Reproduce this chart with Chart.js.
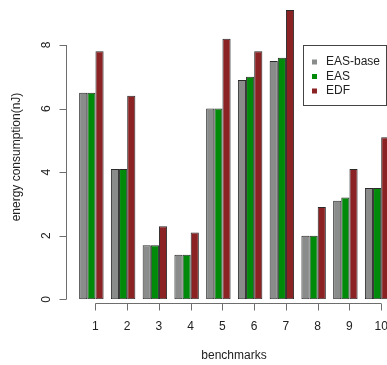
<!DOCTYPE html>
<html>
<head>
<meta charset="utf-8">
<script src="https://cdn.jsdelivr.net/npm/chart.js@4"></script>
<style>
  html, body { margin: 0; padding: 0; background: #fff; overflow: hidden; }
  #wrap { width: 400px; height: 365px; }
</style>
</head>
<body>
<div id="wrap"><canvas id="myChart" width="400" height="365"></canvas></div>
<script>
// data
var benchmarks = ['1', '2', '3', '4', '5', '6', '7', '8', '9', '10'];
var easBase = [6.5, 4.1, 1.7, 1.4, 6.0, 6.9, 7.5, 2.0, 3.1, 3.5];
var eas     = [6.5, 4.1, 1.7, 1.4, 6.0, 7.0, 7.6, 2.0, 3.2, 3.5];
var edf     = [7.8, 6.4, 2.3, 2.1, 8.2, 7.8, 9.1, 2.9, 4.1, 5.1];
var yTicks  = [0, 2, 4, 6, 8];

var FONT = '12px "Liberation Sans", Arial, sans-serif';

// R-style axes, titles and legend
var rAxes = {
  id: 'rAxes',
  afterDraw: function(chart) {
    var ctx = chart.ctx;
    var x = chart.scales.x, y = chart.scales.y;
    var half = chart.getDatasetMeta(0).data[0].width / 2;

    ctx.save();
    ctx.strokeStyle = '#6e6e6e';
    ctx.lineWidth = 1;
    ctx.fillStyle = '#222';
    ctx.font = FONT;

    // y axis
    var ax = 66.5;
    ctx.beginPath();
    ctx.moveTo(ax, y.getPixelForValue(yTicks[0]));
    ctx.lineTo(ax, y.getPixelForValue(yTicks[yTicks.length - 1]));
    yTicks.forEach(function(t) {
      var py = Math.round(y.getPixelForValue(t)) + 0.5;
      ctx.moveTo(ax, py);
      ctx.lineTo(ax - 7, py);
    });
    ctx.stroke();
    ctx.textAlign = 'center';
    ctx.textBaseline = 'middle';
    yTicks.forEach(function(t) {
      ctx.save();
      ctx.translate(47, y.getPixelForValue(t));
      ctx.rotate(-Math.PI / 2);
      ctx.fillText(String(t), 0, 0);
      ctx.restore();
    });

    // x axis
    var ay = 303.5;
    var first = x.getPixelForValue(0) + half;
    var last = x.getPixelForValue(benchmarks.length - 1) + half;
    ctx.beginPath();
    ctx.moveTo(first, ay);
    ctx.lineTo(last, ay);
    benchmarks.forEach(function(b, i) {
      var px = Math.round(x.getPixelForValue(i) + half) + 0.5;
      ctx.moveTo(px, ay);
      ctx.lineTo(px, ay + 7);
    });
    ctx.stroke();
    benchmarks.forEach(function(b, i) {
      ctx.fillText(b, x.getPixelForValue(i) + half, 327);
    });

    // titles
    ctx.fillText('benchmarks', 234, 356);
    ctx.save();
    ctx.translate(17, 157);
    ctx.rotate(-Math.PI / 2);
    ctx.fillText('energy consumption(nJ)', 0, 0);
    ctx.restore();

    // legend
    ctx.fillStyle = '#fff';
    ctx.fillRect(303.5, 45.5, 83, 60);
    ctx.strokeStyle = '#444';
    ctx.strokeRect(303.5, 45.5, 83, 60);
    ctx.textAlign = 'left';
    chart.data.datasets.forEach(function(ds, i) {
      var ly = 62 + i * 14.5;
      ctx.fillStyle = ds.backgroundColor;
      ctx.fillRect(312, ly - 2.5, 5, 5);
      ctx.fillStyle = '#222';
      ctx.fillText(ds.label, 326, ly);
    });
    ctx.restore();
  }
};

var chartContext = document.getElementById('myChart').getContext('2d');
var myChart = new Chart(chartContext, {
  type: 'bar',
  data: {
    labels: benchmarks,
    datasets: [{
      label: 'EAS-base',
      data: easBase,
      backgroundColor: '#8a8c8c'
    }, {
      label: 'EAS',
      data: eas,
      backgroundColor: '#008a0a'
    }, {
      label: 'EDF',
      data: edf,
      backgroundColor: '#8b2325'
    }]
  },
  options: {
    responsive: false,
    animation: false,
    layout: { padding: { left: 75.5, right: 7, top: 0.5, bottom: 65.7 } },
    datasets: {
      bar: {
        categoryPercentage: 0.77,
        barPercentage: 1,
        borderColor: '#2a2a2a',
        borderWidth: 1,
        borderSkipped: false
      }
    },
    plugins: { legend: { display: false }, tooltip: { enabled: false } },
    scales: {
      x: { display: false },
      y: { display: false, min: 0, max: 9.4 }
    }
  },
  plugins: [rAxes]
});
</script>
</body>
</html>
